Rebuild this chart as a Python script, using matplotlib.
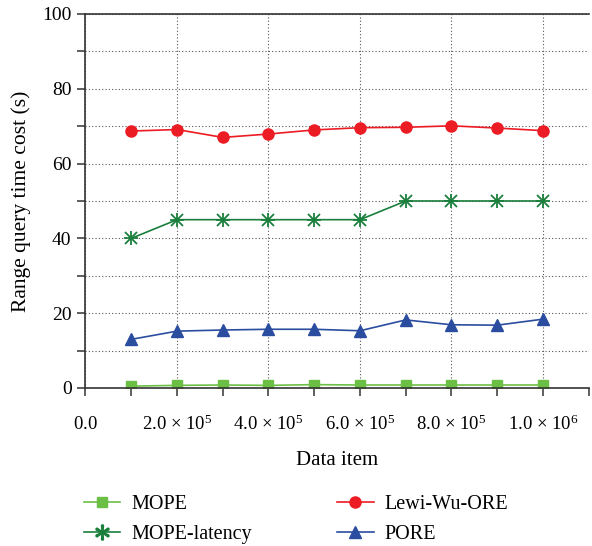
# Range query time cost vs data items
import numpy as np
import matplotlib
matplotlib.use("Agg")
import matplotlib.pyplot as plt
from matplotlib.ticker import MultipleLocator, FixedLocator
from matplotlib.lines import Line2D
from matplotlib.transforms import ScaledTranslation

plt.rcParams["font.family"] = ["Liberation Serif", "DejaVu Serif"]
plt.rcParams["mathtext.fontset"] = "custom"
plt.rcParams["mathtext.rm"] = "Liberation Serif"
plt.rcParams["mathtext.it"] = "Liberation Serif:italic"

# ── data ────────────────────────────────────────────────
data_items = [1e5, 2e5, 3e5, 4e5, 5e5, 6e5, 7e5, 8e5, 9e5, 1e6]
mope = [0.5, 0.7, 0.8, 0.7, 0.9, 0.8, 0.8, 0.8, 0.8, 0.8]
mope_latency = [40, 45, 45, 45, 45, 45, 50, 50, 50, 50]
lewi_wu_ore = [68.7, 69.1, 67.0, 67.9, 69.0, 69.6, 69.7, 70.1, 69.5, 68.8]
pore = [13.0, 15.2, 15.5, 15.7, 15.7, 15.3, 18.2, 16.9, 16.8, 18.4]

xtick_vals = [0, 2e5, 4e5, 6e5, 8e5, 1e6]
xtick_labels = [r"$\mathregular{0.0}$", r"2.0 $\times$ 10$^5$", r"4.0 $\times$ 10$^5$",
                r"6.0 $\times$ 10$^5$", r"8.0 $\times$ 10$^5$", r"1.0 $\times$ 10$^6$"]

c_mope = "#6cbf45"
c_lat = "#1a7f3c"
c_lewi = "#ec1c24"
c_pore = "#2b4da0"

fig = plt.figure(figsize=(5.92, 5.46), dpi=100)
ax = fig.add_axes([0.1444, 0.2894, 0.8501, 0.685])

ax.plot(data_items, mope, color=c_mope, marker="s", markersize=6.5,
        linewidth=1.2, label="MOPE")
ax.plot(data_items, lewi_wu_ore, color=c_lewi, marker="o", markersize=8,
        linewidth=1.2, label="Lewi-Wu-ORE")
ax.plot(data_items, mope_latency, color=c_lat, marker="x", markersize=8,
        markeredgewidth=1.3, linewidth=1.2, label="MOPE-latency")
ax.plot(data_items, mope_latency, color=c_lat, marker="+", markersize=10,
        markeredgewidth=1.3, linewidth=0)
ax.plot(data_items, pore, color=c_pore, marker="^", markersize=8.5,
        linewidth=1.2, label="PORE")

ax.set_xlim(0, 1.1e6)
ax.set_ylim(0, 100)
ax.xaxis.set_major_locator(FixedLocator(xtick_vals))
ax.set_xticklabels(xtick_labels)
ax.xaxis.set_minor_locator(MultipleLocator(1e5))
ax.yaxis.set_major_locator(MultipleLocator(20))
ax.yaxis.set_minor_locator(MultipleLocator(10))

ax.grid(True, which="major", axis="x", linestyle=(0, (1, 2)), color="#555555", linewidth=0.8)
ax.grid(True, which="both", axis="y", linestyle=(0, (1, 2)), color="#555555", linewidth=0.8)
ax.set_axisbelow(True)

ax.spines["right"].set_visible(False)
for s in ["left", "bottom", "top"]:
    ax.spines[s].set_color("#333333")
    ax.spines[s].set_linewidth(1.2)

ax.tick_params(axis="both", which="both", direction="out", color="#333333",
               length=6, width=1.1)
ax.tick_params(axis="x", labelsize=13.5, pad=24.5)
ax.tick_params(axis="y", labelsize=14, pad=4)
for lab in ax.get_xticklabels():
    lab.set_verticalalignment("baseline")

# the plain "0.0" label sits a little low next to the ×10^n ones
fig.canvas.draw()
zero_lab = ax.xaxis.get_major_ticks()[0].label1
zero_lab.set_transform(zero_lab.get_transform()
                       + ScaledTranslation(0, 0.7 / 72, fig.dpi_scale_trans))

ax.set_xlabel("Data item", fontsize=15, labelpad=12)
ax.set_ylabel("Range query time cost (s)", fontsize=15.5, labelpad=8)

handles, labels = ax.get_legend_handles_labels()
# order: MOPE, MOPE-latency | Lewi-Wu-ORE, PORE
lat_handle = Line2D([], [], color=c_lat, marker="$\\ast$", markersize=11, linewidth=1.2)
order = [0, 2, 1, 3]
hs = [handles[i] for i in order]
ls = [labels[i] for i in order]
hs[1] = lat_handle
fig.legend(hs, ls, loc="upper left", bbox_to_anchor=(0.128, 0.108), ncol=2,
           frameon=False, fontsize=14.5, handlelength=1.8, columnspacing=4.25,
           labelspacing=0.55, handletextpad=0.55, borderaxespad=0)

plt.savefig("out.png", dpi=100)
plt.close()
